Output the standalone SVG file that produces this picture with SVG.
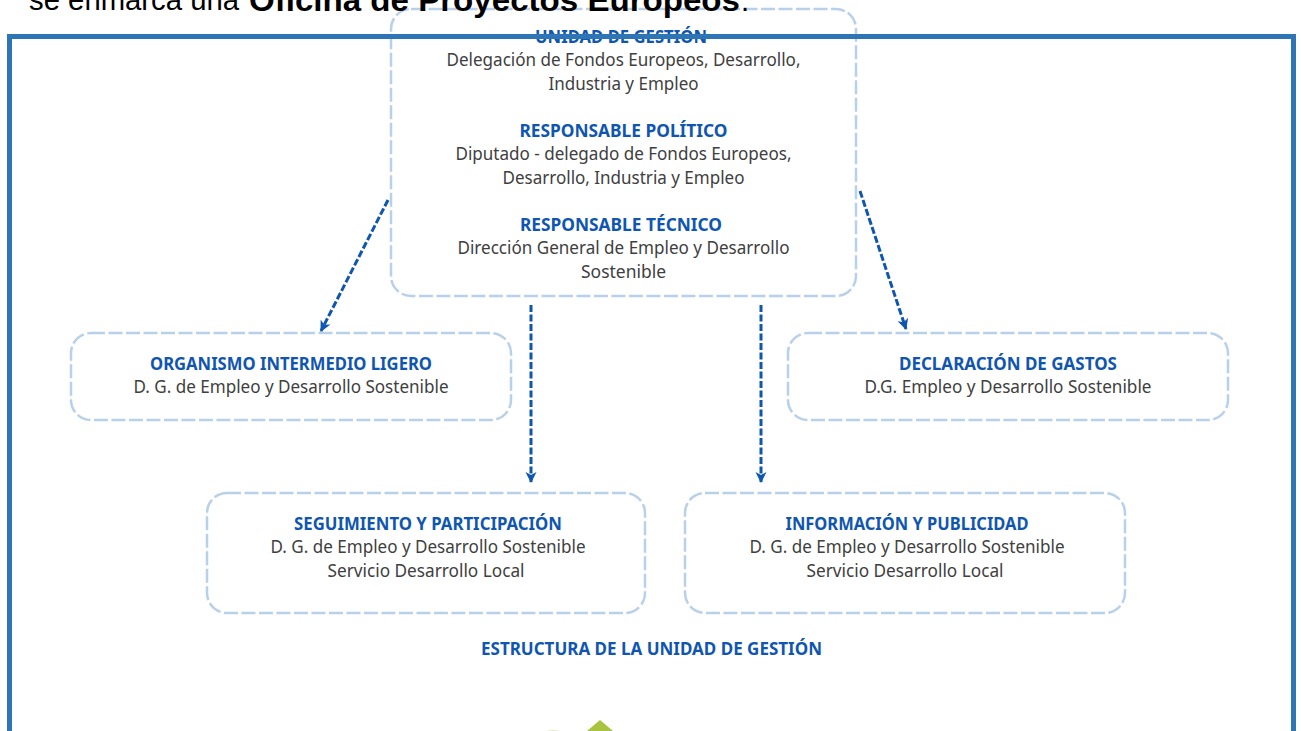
<svg xmlns="http://www.w3.org/2000/svg" width="1301" height="731" viewBox="0 0 1301 731">
<style>
.box{fill:#fff;stroke:#b9d0ea;stroke-width:2.5;stroke-dasharray:14 3.500}
.h{font-family:"Noto Sans","Open Sans",sans-serif;font-size:17.5px;font-weight:700;fill:#0f56b0;text-anchor:middle}
.t{font-family:"Noto Sans","Open Sans",sans-serif;font-size:17.5px;fill:#404040;text-anchor:middle}
.c{fill:none;stroke:#0f56b0;stroke-width:3;stroke-dasharray:7 2.500;marker-end:url(#a)}
.top{font-family:"Liberation Sans",Arial,sans-serif;font-size:29.3px;fill:#000}
</style>
<defs><marker id="a" markerUnits="userSpaceOnUse" markerWidth="14" markerHeight="12" refX="10" refY="6" orient="auto"><path d="M0 0.500L11 6L0 11.500L3 6Z" fill="#0f56b0"/></marker></defs>
<rect width="1301" height="731" fill="#fff"/>
<g id="n-top">
<rect class="box" x="391" y="9" width="465" height="287" rx="20"/>
<text class="h" x="621" y="42.500" textLength="172" lengthAdjust="spacingAndGlyphs">UNIDAD DE GESTIÓN</text>
<text class="t" x="623.500" y="66" textLength="354" lengthAdjust="spacingAndGlyphs">Delegación de Fondos Europeos, Desarrollo,</text>
<text class="t" x="623.500" y="90" textLength="150" lengthAdjust="spacingAndGlyphs">Industria y Empleo</text>
<text class="h" x="623.500" y="136.500" textLength="208" lengthAdjust="spacingAndGlyphs">RESPONSABLE POLÍTICO</text>
<text class="t" x="623.500" y="160" textLength="336" lengthAdjust="spacingAndGlyphs">Diputado - delegado de Fondos Europeos,</text>
<text class="t" x="623.500" y="184" textLength="242" lengthAdjust="spacingAndGlyphs">Desarrollo, Industria y Empleo</text>
<text class="h" x="621" y="230.500" textLength="202" lengthAdjust="spacingAndGlyphs">RESPONSABLE TÉCNICO</text>
<text class="t" x="623.500" y="254" textLength="332" lengthAdjust="spacingAndGlyphs">Dirección General de Empleo y Desarrollo</text>
<text class="t" x="623.500" y="278" textLength="85" lengthAdjust="spacingAndGlyphs">Sostenible</text>
</g>
<g id="frame"><path d="M9.500 731V36.500H1293.500V731" fill="none" stroke="#2e75b6" stroke-width="5"/></g>
<text class="top" x="29" y="10">se enmarca una</text>
<text class="top" x="249" y="10.500" font-weight="700" textLength="491" lengthAdjust="spacingAndGlyphs" style="font-size:31px">Oficina de Proyectos Europeos</text>
<text class="top" x="741" y="10.500">.</text>
<g id="n-oil">
<rect class="box" x="71" y="333" width="440" height="87" rx="20"/>
<text class="h" x="291" y="369.500" textLength="282" lengthAdjust="spacingAndGlyphs">ORGANISMO INTERMEDIO LIGERO</text>
<text class="t" x="291" y="393" textLength="315" lengthAdjust="spacingAndGlyphs">D. G. de Empleo y Desarrollo Sostenible</text>
</g>
<g id="n-gastos">
<rect class="box" x="788" y="333" width="440" height="87" rx="20"/>
<text class="h" x="1008" y="369.500" textLength="218" lengthAdjust="spacingAndGlyphs">DECLARACIÓN DE GASTOS</text>
<text class="t" x="1008" y="393" textLength="287" lengthAdjust="spacingAndGlyphs">D.G. Empleo y Desarrollo Sostenible</text>
</g>
<g id="n-seg">
<rect class="box" x="207" y="493" width="438" height="120" rx="20"/>
<text class="h" x="428" y="529.500" textLength="268" lengthAdjust="spacingAndGlyphs">SEGUIMIENTO Y PARTICIPACIÓN</text>
<text class="t" x="428" y="553" textLength="315" lengthAdjust="spacingAndGlyphs">D. G. de Empleo y Desarrollo Sostenible</text>
<text class="t" x="426" y="577" textLength="197" lengthAdjust="spacingAndGlyphs">Servicio Desarrollo Local</text>
</g>
<g id="n-info">
<rect class="box" x="685" y="493" width="440" height="120" rx="20"/>
<text class="h" x="907" y="529.500" textLength="243" lengthAdjust="spacingAndGlyphs">INFORMACIÓN Y PUBLICIDAD</text>
<text class="t" x="907" y="553" textLength="315" lengthAdjust="spacingAndGlyphs">D. G. de Empleo y Desarrollo Sostenible</text>
<text class="t" x="905" y="577" textLength="197" lengthAdjust="spacingAndGlyphs">Servicio Desarrollo Local</text>
</g>
<text class="h" x="651.500" y="655" textLength="341" lengthAdjust="spacingAndGlyphs">ESTRUCTURA DE LA UNIDAD DE GESTIÓN</text>
<g id="connectors">
<path class="c" d="M388 200L321 331"/>
<path class="c" d="M860 191L906 329"/>
<path class="c" d="M531 305V482"/>
<path class="c" d="M761 305V482"/>
</g>
<path d="M600 720L587 731H613Z" fill="#a9c23f"/>
<path d="M546 731Q553 729 560 731Z" fill="#e4ebc4"/>
</svg>
